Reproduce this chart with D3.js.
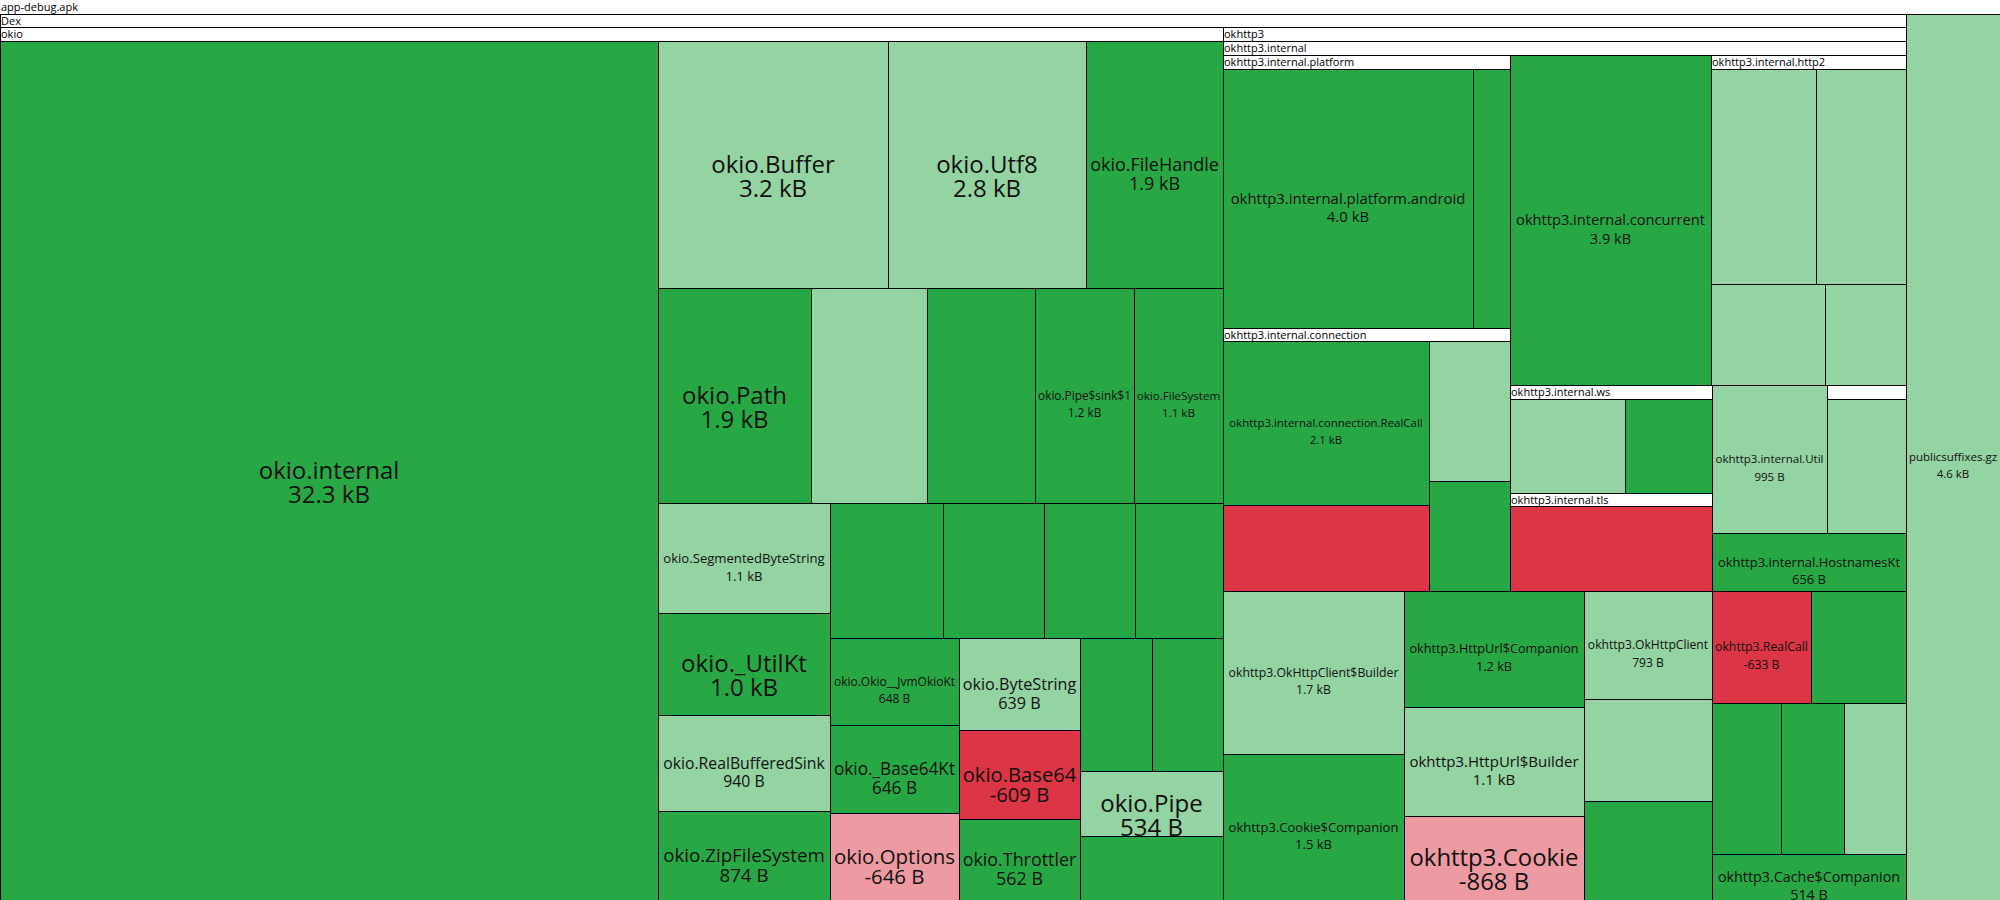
<!DOCTYPE html>
<html><head><meta charset="utf-8">
<script src="https://cdn.jsdelivr.net/npm/d3@7"></script>
<style>
html,body{margin:0;padding:0;background:#fff;}
svg{display:block;font-family:"Open Sans",sans-serif;}
</style></head><body>
<svg id="chart" width="2000" height="900"></svg>
<script>
// ---- data (sizes in bytes, signed; shade 0 = strong, 1 = light) ----
const rootName = "app-debug.apk";
const dexName = "Dex";

const assetNames  = ["publicsuffixes.gz"];
const assetSizes  = [4630];
const assetShades = [1];

const okioNames = ["okio.internal","okio.Buffer","okio.Utf8","okio.FileHandle","okio.Path","","",
  "okio.Pipe$sink$1","okio.FileSystem","okio.SegmentedByteString","okio._UtilKt","okio.RealBufferedSink",
  "okio.ZipFileSystem","","","","","okio.Okio__JvmOkioKt","okio._Base64Kt","okio.Options","okio.ByteString",
  "okio.Base64","okio.Throttler","","","okio.Pipe",""];
const okioSizes = [32300,3240,2800,1930,1880,1422,1319,1220,1090,1080,1000,940,874,870,780,705,677,
  648,646,-646,639,-609,562,545,538,534,520];
const okioShades = [0,1,1,0,0,1,0,0,0,1,0,1,0,0,0,0,0,0,0,1,1,0,0,0,0,1,0];

const okhttpNames = ["okhttp3.OkHttpClient$Builder","okhttp3.Cookie$Companion","okhttp3.HttpUrl$Companion",
  "okhttp3.HttpUrl$Builder","okhttp3.Cookie","okhttp3.OkHttpClient","","","okhttp3.RealCall","","","","",
  "okhttp3.Cache$Companion"];
const okhttpSizes = [1681,1512,1200,1112,-868,793,749,727,-633,606,599,542,528,514];
const okhttpShades = [1,0,0,1,1,1,1,0,0,0,0,0,1,0];

const internalNames  = ["okhttp3.internal.concurrent","okhttp3.internal.Util","okhttp3.internal.HostnamesKt"];
const internalSizes  = [3900,995,656];
const internalShades = [0,1,0];

const platformNames = ["okhttp3.internal.platform.android",""];
const platformSizes = [4000,590];
const platformShades = [0,0];

const connectionNames = ["okhttp3.internal.connection.RealCall","","",""];
const connectionSizes = [2090,-1098,695,545];
const connectionShades = [0,0,1,0];

const http2Names = ["","","",""];
const http2Sizes = [1389,1178,701,501];
const http2Shades = [1,1,1,1];

const wsNames = ["",""];
const wsSizes = [723,545];
const wsShades = [1,0];

const tlsNames = [""];
const tlsSizes = [-1161];
const tlsShades = [0];

const otherPkgNames = [""];
const otherPkgSizes = [684];
const otherPkgShades = [1];

// ---- hierarchy ----
function leaves(names, sizes, shades) {
  return names.map((n, i) => ({name: n, size: sizes[i], shade: shades[i]}));
}
function pkg(name, children) { return {name, children}; }

const data = pkg(rootName, [
  pkg(dexName, [
    pkg("okio", leaves(okioNames, okioSizes, okioShades)),
    pkg("okhttp3", [
      pkg("okhttp3.internal", [
        pkg("okhttp3.internal.platform", leaves(platformNames, platformSizes, platformShades)),
        pkg("okhttp3.internal.connection", leaves(connectionNames, connectionSizes, connectionShades)),
        pkg("okhttp3.internal.http2", leaves(http2Names, http2Sizes, http2Shades)),
        pkg("okhttp3.internal.ws", leaves(wsNames, wsSizes, wsShades)),
        pkg("okhttp3.internal.tls", leaves(tlsNames, tlsSizes, tlsShades)),
        pkg("", leaves(otherPkgNames, otherPkgSizes, otherPkgShades)),
        ...leaves(internalNames, internalSizes, internalShades)
      ]),
      ...leaves(okhttpNames, okhttpSizes, okhttpShades)
    ])
  ]),
  ...leaves(assetNames, assetSizes, assetShades)
]);

const W = 2000, H = 900;
const root = d3.hierarchy(data)
  .sum(d => d.children ? 0 : Math.abs(d.size))
  .sort((a, b) => b.value - a.value);

d3.treemap()
  .size([W, H])
  .tile(d3.treemapSquarify)
  .paddingTop(13.7)
  .round(true)(root);

const color = d => d.size < 0 ? (d.shade ? "#ee9aa2" : "#dc3545")
                              : (d.shade ? "#94d3a2" : "#28a745");
const fmt = v => Math.abs(v) >= 1000 ? (v / 1000).toFixed(1) + " kB" : v + " B";

const svg = d3.select("#chart");
const defs = svg.append("defs");

const nodes = root.descendants();
const g = svg.selectAll("g.node").data(nodes).join("g").attr("class", "node");

g.append("rect")
  .attr("x", d => d.x0 + 0.5)
  .attr("y", d => d.y0 + 0.5)
  .attr("width", d => Math.max(0, d.x1 - d.x0))
  .attr("height", d => Math.max(0, d.y1 - d.y0))
  .attr("fill", d => d.children ? "#fff" : color(d.data))
  .attr("stroke", d => d.depth === 0 ? "none" : "#000")
  .attr("stroke-width", 1);

// header labels for packages
g.filter(d => d.children && d.data.name)
  .append("text")
  .attr("x", d => d.x0 + 1)
  .attr("y", d => d.y0 + 10.5)
  .attr("font-size", 11)
  .attr("fill", "#000")
  .text(d => d.data.name);

// leaf labels
const meas = svg.append("text").attr("font-size", 100).attr("visibility", "hidden");
function widthAt100(s) { meas.text(s); return meas.node().getComputedTextLength(); }

const labelled = g.filter(d => !d.children && d.data.name);
labelled.each(function(d, i) {
  const w = d.x1 - d.x0, h = d.y1 - d.y0;
  const tw = Math.max(widthAt100(d.data.name), widthAt100(fmt(d.data.size)));
  const f = Math.min(24, 0.94 * w * 100 / tw);
  const id = "clip" + i;
  defs.append("clipPath").attr("id", id).append("rect")
    .attr("x", d.x0 + 1).attr("y", d.y0 + 1).attr("width", w - 1).attr("height", h - 1);
  const cx = (d.x0 + d.x1) / 2, cy = (d.y0 + d.y1) / 2;
  const t = d3.select(this).append("g").attr("clip-path", `url(#${id})`);
  const base = cy + 0.35 * f;
  const dy = Math.max(f, 14 + 0.3 * f);
  t.append("text").attr("x", cx).attr("y", base).attr("text-anchor", "middle")
    .attr("font-size", f).attr("fill", "#111").text(d.data.name);
  t.append("text").attr("x", cx).attr("y", base + dy).attr("text-anchor", "middle")
    .attr("font-size", f).attr("fill", "#111").text(fmt(d.data.size));
});
meas.remove();
</script>
</body></html>
